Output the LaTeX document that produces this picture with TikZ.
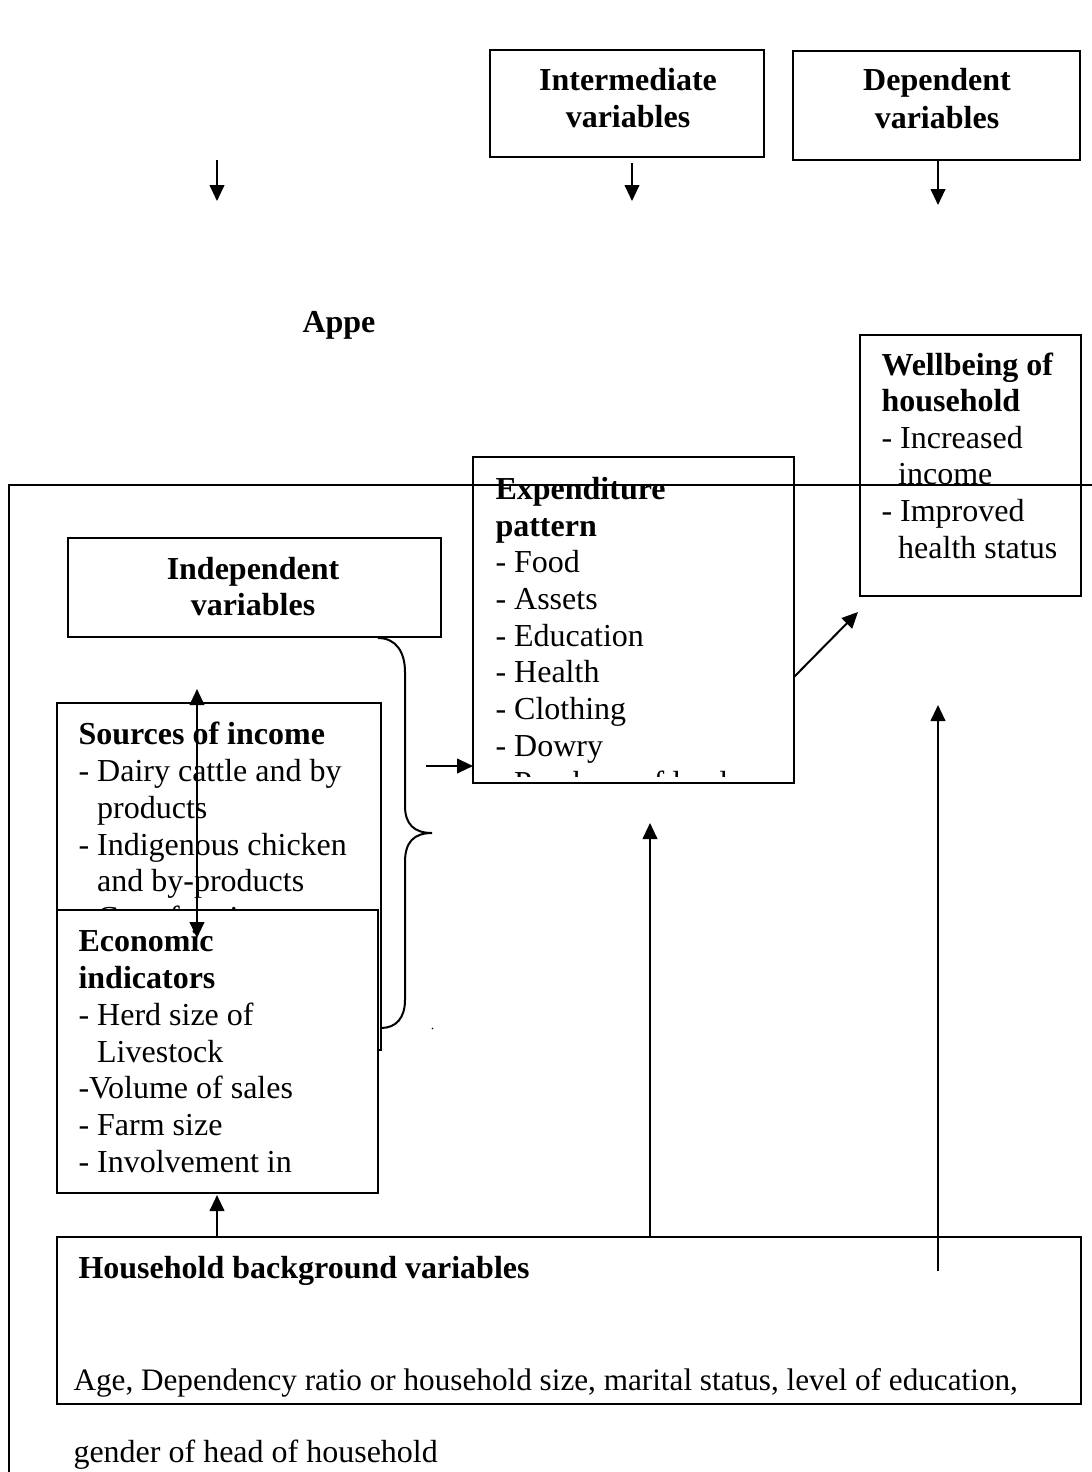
\documentclass[tikz,border=0pt]{standalone}
\usepackage{fontspec}
\setmainfont{Liberation Serif}
\usetikzlibrary{arrows.meta}
\newcommand\mkbox[6][]{\node[box,#1,minimum width={(#4-#2)*0.375pt},minimum height={(#5-#3)*0.375pt}] (#6) at ({(#2+#4)/2},{(#3+#5)/2}) {};}
\begin{document}
\begin{tikzpicture}[x=0.375pt,y=-0.375pt,
  box/.style={draw, line width=0.75pt, rectangle, inner sep=0pt, outer sep=0pt},
  txt/.style={anchor=base west, inner sep=0pt, font=\fontsize{12}{13.875}\selectfont},
  btxt/.style={txt, font=\fontsize{12}{13.875}\selectfont\bfseries},
  ctxt/.style={anchor=base, inner sep=0pt, font=\fontsize{12}{13.875}\selectfont\bfseries},
  arr/.style={line width=0.75pt, -{Triangle[length=6pt,width=5.5pt]}},
  darr/.style={line width=0.75pt, {Triangle[length=6pt,width=5.5pt]}-{Triangle[length=6pt,width=5.5pt]}},
  ln/.style={line width=0.75pt}]
\useasboundingbox[fill=white] (0,0) rectangle (1092,1472);

% header boxes
\mkbox{490}{50}{764}{157}{inter}
\mkbox{793}{51}{1080}{160}{dep}
\node[ctxt] (inter1) at (628,90) {Intermediate};
\node[ctxt] (inter2) at (628,127) {variables};
\node[ctxt] (dep1) at (937,90) {Dependent};
\node[ctxt] (dep2) at (937,128) {variables};
\coordinate (a1s) at (217,160); \coordinate (a1e) at (217,201);
\coordinate (a2s) at (632,163); \coordinate (a2e) at (632,201);
\coordinate (a3e) at (938,205);
\draw[arr] (a1s) -- (a1e);
\draw[arr] (a2s) -- (a2e);
\draw[arr] (dep.south -| a3e) -- (a3e);
\node[ctxt] (appe) at (339,332) {Appe};

% wellbeing
\mkbox{860}{335}{1081}{596}{well}
\node[btxt] (w1) at (881,375) {Wellbeing of};
\node[btxt] (w2) at (881,411) {household};
\node[txt] (w3) at (881,448) {- Increased};
\node[txt] (w4) at (879,484) {\phantom{- }income};
\node[txt] (w5) at (881,521) {- Improved};
\node[txt] (w6) at (879,558) {\phantom{- }health status};

% expenditure
\mkbox{473}{457}{794}{783}{exp}
\node[btxt] (e1) at (495,499) {Expenditure};
\node[btxt] (e2) at (495,536) {pattern};
\foreach \t [count=\i from 3] in {- Food,- Assets,- Education,- Health,- Clothing,- Dowry}
  \node[txt] (e\i) at (495,{499+36.75*(\i-1)}) {\t};
\begin{scope}
  \clip (473,457) rectangle (794,776);
  \node[txt] (e9) at (495,793) {- Purchase of land};
\end{scope}

% independent
\mkbox{68}{538}{441}{637}{indep}
\node[ctxt] (i1) at (253,579) {Independent};
\node[ctxt] (i2) at (253,615) {variables};

% sources of income
\mkbox{57}{703}{381}{1050}{src}
\node[btxt] (s1) at (78,744) {Sources of income};
\node[txt] (s2) at (78,781) {- Dairy cattle and by};
\node[txt] (s3) at (78,818) {\phantom{- }products};
\node[txt] (s4) at (78,855) {- Indigenous chicken};
\node[txt] (s5) at (78,891) {\phantom{- }and by-products};
\node[txt] (s6) at (78,928) {- Crop farming};

% economic indicators (covers the rest of the sources box)
\mkbox[fill=white]{57}{910}{378}{1193}{econ}
\node[btxt] (c1) at (78,951) {Economic};
\node[btxt] (c2) at (78,988) {indicators};
\node[txt] (c3) at (78,1025) {- Herd size of};
\node[txt] (c4) at (78,1062) {\phantom{- }Livestock};
\node[txt] (c5) at (78,1098) {-Volume of sales};
\node[txt] (c6) at (78,1135) {- Farm size};
\node[txt] (c7) at (78,1172) {- Involvement in};

% brace
\draw[ln] (378,638) .. controls (396,638) and (405,652) .. (405,672)
  -- (405,806) .. controls (405,824) and (414,833) .. (432,833)
  .. controls (414,833) and (405,842) .. (405,862)
  -- (405,1000) .. controls (405,1018) and (396,1028) .. (381,1028);
\fill (432.5,1028.5) circle (0.8);
\coordinate (b1) at (426,766);
\draw[arr] (b1) -- (b1 -| exp.west);

% household
\mkbox{57}{1237}{1081}{1404}{hh}
\node[btxt] (h1) at (78,1278) {Household background variables};
\node[txt, font=\fontsize{11.7}{13.875}\selectfont] (h2) at (73,1390) {Age, Dependency ratio or household size, marital status, level of education,};
\node[txt] (h3) at (73,1462) {gender of head of household};

% arrows
\coordinate (u1) at (217,1195);
\draw[arr] (hh.north -| u1) -- (u1);
\coordinate (u2) at (650,823);
\draw[arr] (hh.north -| u2) -- (u2);
\coordinate (u3s) at (938,1271); \coordinate (u3) at (938,705);
\draw[arr] (u3s) -- (u3);
\coordinate (d1s) at (794,677); \coordinate (d1) at (858,612);
\draw[arr] (d1s) -- (d1);

% outer frame
\coordinate (fr1) at (1092,485); \coordinate (fr2) at (9,485); \coordinate (fr3) at (9,1472);
\draw[ln] (fr1) -- (fr2) -- (fr3);

% double arrow
\coordinate (v1) at (197,689); \coordinate (v2) at (197,938);
\draw[darr] (v1) -- (v2);
\end{tikzpicture}
\end{document}
